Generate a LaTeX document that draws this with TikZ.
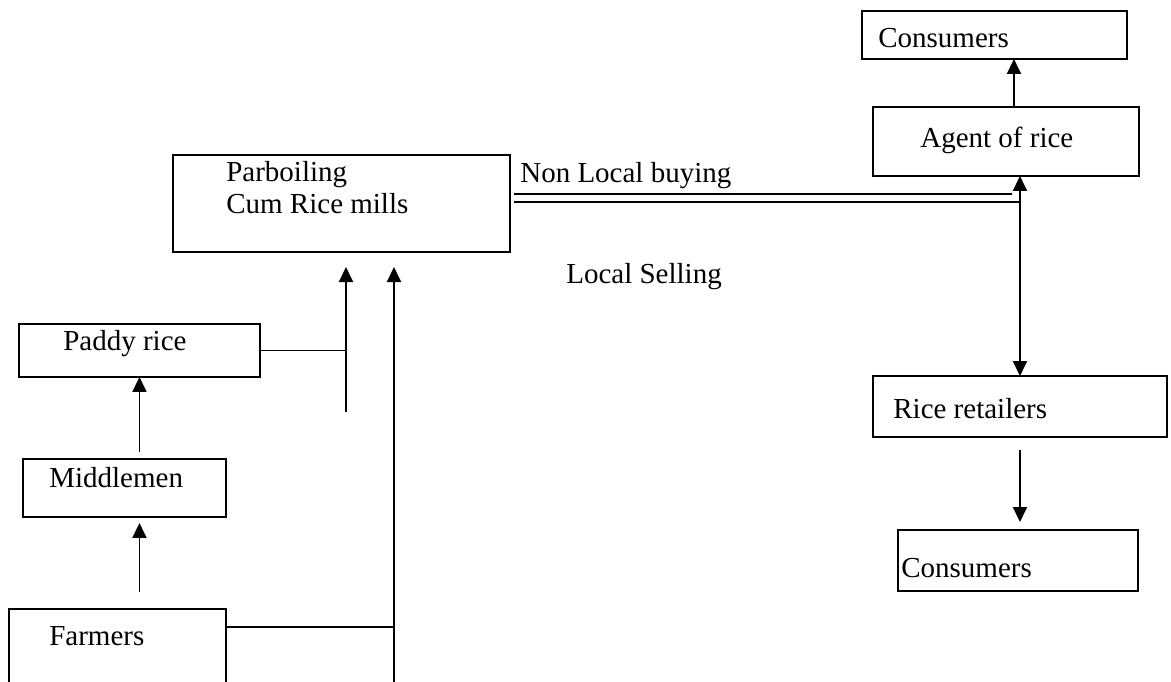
\documentclass[tikz,border=0pt]{standalone}
\usepackage{fontspec}
\setmainfont{Liberation Serif}
\usetikzlibrary{arrows.meta}
\begin{document}
\begin{tikzpicture}[x=0.02cm,y=-0.02cm,
    box/.style={draw, line width=0.8pt, inner sep=0pt, outer sep=0pt, anchor=north west},
    lbl/.style={inner sep=0pt, anchor=base west, font=\fontsize{16.5}{18}\selectfont},
    conn/.style={line width=0.9pt},
    arr/.style={line width=1.1pt, -{Triangle[length=0.3cm,width=0.28cm]}},
    arrr/.style={line width=1.1pt, {Triangle[length=0.3cm,width=0.28cm]}-{Triangle[length=0.3cm,width=0.28cm]}}]
  \fill[white] (0,0) rectangle (1171,681);
  \useasboundingbox (0,0) rectangle (1171,681);

  % boxes
  \node[box, minimum width=5.3cm, minimum height=0.96cm] (constop) at (862,11) {};
  \node[box, minimum width=5.32cm, minimum height=1.38cm] (agent) at (873,107) {};
  \node[box, minimum width=6.74cm, minimum height=1.94cm] (parb) at (173,155) {};
  \node[box, minimum width=4.82cm, minimum height=1.06cm] (paddy) at (19,324) {};
  \node[box, minimum width=4.06cm, minimum height=1.16cm] (middle) at (23,459) {};
  \node[box, minimum width=4.34cm, minimum height=1.9cm] (farm) at (9,609) {};
  \node[box, minimum width=5.88cm, minimum height=1.22cm] (retail) at (873,376) {};
  \node[box, minimum width=4.8cm, minimum height=1.22cm] (consbot) at (898,530) {};

  % texts
  \node[lbl] (tconstop) at (878,47) {Consumers};
  \node[lbl] (tagent) at (920,147) {Agent of rice};
  \node[lbl] (tparbA) at (226,181) {Parboiling};
  \node[lbl] (tparbB) at (226,213) {Cum Rice mills};
  \node[lbl] (tnonlocal) at (520,182) {Non Local buying};
  \node[lbl] (tlocal) at (566,283) {Local Selling};
  \node[lbl] (tpaddy) at (63,350) {Paddy rice};
  \node[lbl] (tmiddle) at (49,487) {Middlemen};
  \node[lbl] (tfarm) at (49,645) {Farmers};
  \node[lbl] (tretail) at (893,418) {Rice retailers};
  \node[lbl] (tconsbot) at (901,577) {Consumers};

  % points
  \coordinate (nlA) at (514,194);
  \coordinate (nlB) at (514,202);
  \coordinate (upA) at (346,267);
  \coordinate (endA) at (346,412);
  \coordinate (upB) at (394,267);
  \coordinate (endB) at (394,700);

  % right side
  \draw[arr] ([xshift=0.16cm]agent.north) -- ([xshift=0.16cm]agent.north |- constop.south);
  \draw[arrr] (retail.north |- agent.south) -- (retail.north);
  \draw[conn] (nlA) -- ([xshift=-0.16cm]nlA -| retail.north);
  \draw[conn] (nlB) -- (nlB -| retail.north);
  \draw[arr] ([yshift=-0.26cm]retail.south) -- ([yshift=0.16cm]retail.south |- consbot.north);

  % left side
  \draw[arr] (endA) -- (upA);
  \draw[conn] (paddy.east) -- (paddy.east -| upA);
  \draw[arr] ([yshift=0.14cm]paddy.south |- middle.north) -- (paddy.south);
  \draw[arr] ([yshift=0.34cm]paddy.south |- farm.north) -- ([yshift=-0.12cm]paddy.south |- middle.south);
  \draw[arr] (endB) -- (upB);
  \draw[conn] ([yshift=-0.36cm]farm.north east) -- ([yshift=-0.36cm]farm.north east -| upB);
\end{tikzpicture}
\end{document}
